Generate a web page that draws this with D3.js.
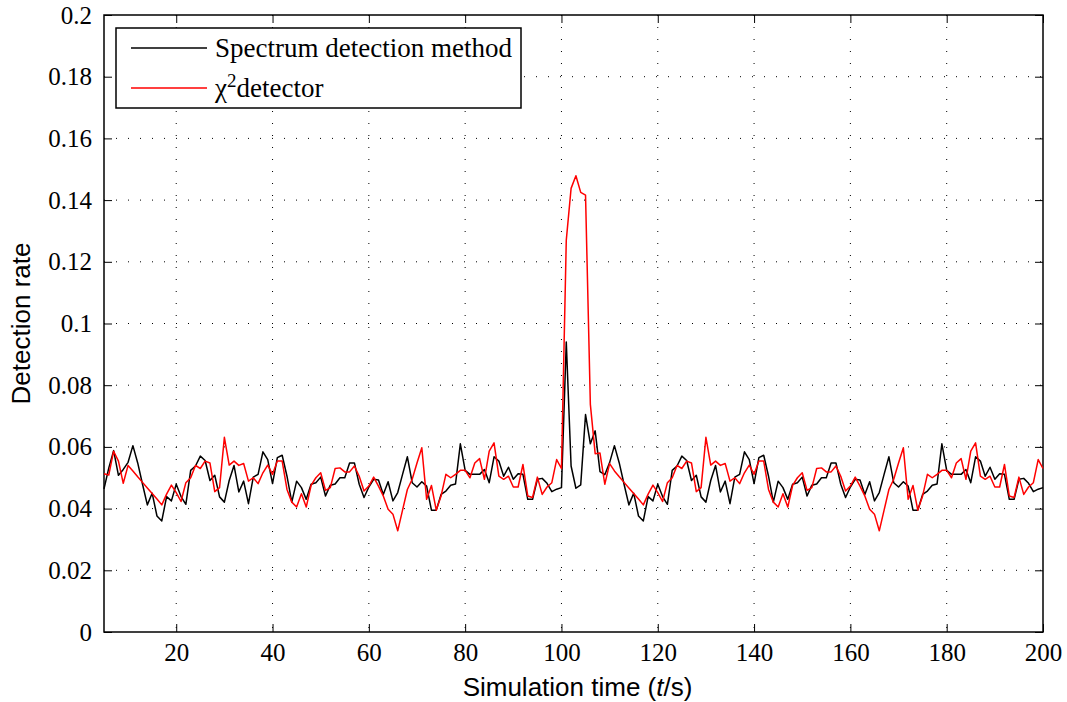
<!DOCTYPE html>
<html>
<head>
<meta charset="utf-8">
<script src="https://cdn.jsdelivr.net/npm/d3@7"></script>
<style>
  body { margin: 0; background: #fff; }
  .tick-label { font-family: "Liberation Serif", "Times New Roman", serif; font-size: 25px; fill: #000; }
  .axis-title { font-family: "Liberation Sans", Arial, sans-serif; font-size: 26px; fill: #000; }
  .legend-text { font-family: "Liberation Serif", "Times New Roman", serif; font-size: 27px; fill: #000; }
</style>
</head>
<body>
<script>
var width = 1067;
var height = 702;
var margin = {top: 15, right: 24, bottom: 70, left: 104};
var w = width - margin.left - margin.right;
var h = height - margin.top - margin.bottom;

// time axis: t = 5 ... 200
var tStart = 5;
// spectrum detection method (black), one value per second from t=5
var spectrum = [
  0.0464, 0.0532, 0.0588, 0.0508, 0.0527, 0.0550, 0.0604, 0.0548, 0.0479, 0.0412,
  0.0450, 0.0376, 0.0360, 0.0439, 0.0425, 0.0479, 0.0439, 0.0414, 0.0524, 0.0538,
  0.0570, 0.0556, 0.0491, 0.0508, 0.0438, 0.0421, 0.0491, 0.0540, 0.0454, 0.0489,
  0.0416, 0.0502, 0.0511, 0.0584, 0.0559, 0.0481, 0.0565, 0.0573, 0.0505, 0.0421,
  0.0489, 0.0468, 0.0430, 0.0479, 0.0484, 0.0502, 0.0441, 0.0476, 0.0480, 0.0500,
  0.0500, 0.0548, 0.0548, 0.0479, 0.0436, 0.0470, 0.0495, 0.0493, 0.0446, 0.0487,
  0.0425, 0.0452, 0.0511, 0.0568, 0.0484, 0.0470, 0.0487, 0.0473, 0.0395, 0.0395,
  0.0446, 0.0457, 0.0476, 0.0480, 0.0610, 0.0524, 0.0511, 0.0511, 0.0511, 0.0527,
  0.0484, 0.0568, 0.0554, 0.0505, 0.0534, 0.0495, 0.0513, 0.0511, 0.0430, 0.0430,
  0.0495, 0.0498, 0.0482, 0.0455, 0.0463, 0.0468,
  0.0940, 0.0538, 0.0466, 0.0477, 0.0705, 0.0610, 0.0652, 0.0520, 0.0510, 0.0549,
  0.0604, 0.0548, 0.0479, 0.0412,
  0.0450, 0.0376, 0.0360, 0.0439, 0.0425, 0.0479, 0.0439, 0.0414, 0.0524, 0.0538,
  0.0570, 0.0556, 0.0491, 0.0508, 0.0438, 0.0421, 0.0491, 0.0540, 0.0454, 0.0489,
  0.0416, 0.0502, 0.0511, 0.0584, 0.0559, 0.0481, 0.0565, 0.0573, 0.0505, 0.0421,
  0.0489, 0.0468, 0.0430, 0.0479, 0.0484, 0.0502, 0.0441, 0.0476, 0.0480, 0.0500,
  0.0500, 0.0548, 0.0548, 0.0479, 0.0436, 0.0470, 0.0495, 0.0493, 0.0446, 0.0487,
  0.0425, 0.0452, 0.0511, 0.0568, 0.0484, 0.0470, 0.0487, 0.0473, 0.0395, 0.0395,
  0.0446, 0.0457, 0.0476, 0.0480, 0.0610, 0.0524, 0.0511, 0.0511, 0.0511, 0.0527,
  0.0484, 0.0568, 0.0554, 0.0505, 0.0534, 0.0495, 0.0513, 0.0511, 0.0430, 0.0430,
  0.0495, 0.0498, 0.0482, 0.0455, 0.0463, 0.0468
];
// chi-square detector (red)
var chi2 = [
  0.0513, 0.0509, 0.0586, 0.0554, 0.0482, 0.0540, 0.0522, 0.0503, 0.0485, 0.0467,
  0.0449, 0.0431, 0.0412, 0.0447, 0.0476, 0.0452, 0.0423, 0.0484, 0.0500, 0.0540,
  0.0530, 0.0554, 0.0548, 0.0455, 0.0468, 0.0631, 0.0541, 0.0554, 0.0540, 0.0546,
  0.0489, 0.0500, 0.0481, 0.0516, 0.0541, 0.0511, 0.0554, 0.0554, 0.0462, 0.0421,
  0.0405, 0.0448, 0.0405, 0.0475, 0.0500, 0.0516, 0.0459, 0.0468, 0.0530, 0.0532,
  0.0519, 0.0519, 0.0538, 0.0505, 0.0457, 0.0473, 0.0502, 0.0473, 0.0441, 0.0398,
  0.0382, 0.0328, 0.0395, 0.0462, 0.0495, 0.0548, 0.0597, 0.0430, 0.0475, 0.0395,
  0.0441, 0.0511, 0.0500, 0.0511, 0.0524, 0.0524, 0.0500, 0.0548, 0.0562, 0.0495,
  0.0586, 0.0613, 0.0505, 0.0495, 0.0505, 0.0470, 0.0470, 0.0543, 0.0441, 0.0436,
  0.0502, 0.0446, 0.0470, 0.0484, 0.0559, 0.0530,
  0.1270, 0.1438, 0.1479, 0.1425, 0.1416, 0.0738, 0.0578, 0.0580, 0.0479, 0.0546,
  0.0522, 0.0503, 0.0485, 0.0467,
  0.0449, 0.0431, 0.0412, 0.0447, 0.0476, 0.0452, 0.0423, 0.0484, 0.0500, 0.0540,
  0.0530, 0.0554, 0.0548, 0.0455, 0.0468, 0.0631, 0.0541, 0.0554, 0.0540, 0.0546,
  0.0489, 0.0500, 0.0481, 0.0516, 0.0541, 0.0511, 0.0554, 0.0554, 0.0462, 0.0421,
  0.0405, 0.0448, 0.0405, 0.0475, 0.0500, 0.0516, 0.0459, 0.0468, 0.0530, 0.0532,
  0.0519, 0.0519, 0.0538, 0.0505, 0.0457, 0.0473, 0.0502, 0.0473, 0.0441, 0.0398,
  0.0382, 0.0328, 0.0395, 0.0462, 0.0495, 0.0548, 0.0597, 0.0430, 0.0475, 0.0395,
  0.0441, 0.0511, 0.0500, 0.0511, 0.0524, 0.0524, 0.0500, 0.0548, 0.0562, 0.0495,
  0.0586, 0.0613, 0.0505, 0.0495, 0.0505, 0.0470, 0.0470, 0.0543, 0.0441, 0.0436,
  0.0502, 0.0446, 0.0470, 0.0484, 0.0559, 0.0530
];
var xTicks = [20, 40, 60, 80, 100, 120, 140, 160, 180, 200];
var yTicks = [0, 0.02, 0.04, 0.06, 0.08, 0.1, 0.12, 0.14, 0.16, 0.18, 0.2];
var yTickLabels = ["0", "0.02", "0.04", "0.06", "0.08", "0.1", "0.12", "0.14", "0.16", "0.18", "0.2"];
var seriesNames = ["Spectrum detection method", "detector"];
var seriesColors = ["#000000", "#ff0000"];

var svg = d3.select("body").append("svg")
    .attr("width", width)
    .attr("height", height)
  .append("g")
    .attr("transform", "translate(" + margin.left + "," + margin.top + ")");

var x = d3.scaleLinear().domain([5, 200]).range([0, w]);
var y = d3.scaleLinear().domain([0, 0.2]).range([h, 0]);

// dotted grid
svg.selectAll(".vgrid").data(xTicks.filter(function(d) { return d < 200; }))
  .enter().append("line")
    .attr("x1", function(d) { return x(d); }).attr("x2", function(d) { return x(d); })
    .attr("y1", 0).attr("y2", h)
    .style("stroke", "#000").style("stroke-width", 1)
    .style("stroke-dasharray", "1,11");
svg.selectAll(".hgrid").data(yTicks.filter(function(d) { return d > 0 && d < 0.2; }))
  .enter().append("line")
    .attr("x1", 0).attr("x2", w)
    .attr("y1", function(d) { return y(d); }).attr("y2", function(d) { return y(d); })
    .style("stroke", "#000").style("stroke-width", 1)
    .style("stroke-dasharray", "1,11");

// axes, ticks pointing inward like matlab
var xAxis = d3.axisBottom(x).tickValues(xTicks).tickSize(-8).tickPadding(10);
var yAxis = d3.axisLeft(y).tickValues(yTicks).tickSize(-8).tickPadding(12)
    .tickFormat(function(d, i) { return yTickLabels[i]; });

var gx = svg.append("g").attr("transform", "translate(0," + h + ")").call(xAxis);
var gy = svg.append("g").call(yAxis);
svg.append("g").call(d3.axisTop(x).tickValues(xTicks).tickSize(-8).tickFormat(""));
svg.append("g").attr("transform", "translate(" + w + ",0)")
  .call(d3.axisRight(y).tickValues(yTicks).tickSize(-8).tickFormat(""));

svg.selectAll(".domain").remove();
svg.selectAll(".tick line").style("stroke", "#000").style("stroke-width", 1);
gx.selectAll("text").attr("class", "tick-label").attr("dy", "0.75em");
gy.selectAll("text").attr("class", "tick-label");

svg.append("rect")
    .attr("x", 0).attr("y", 0).attr("width", w).attr("height", h)
    .style("fill", "none").style("stroke", "#000").style("stroke-width", 1.5);

// data lines
var line = d3.line()
    .x(function(d, i) { return x(tStart + i); })
    .y(function(d) { return y(d); });

[spectrum, chi2].forEach(function(s, k) {
  svg.append("path")
    .datum(s)
    .attr("d", line)
    .style("fill", "none")
    .style("stroke", seriesColors[k])
    .style("stroke-width", 1.5)
    .style("stroke-linejoin", "round");
});

// axis titles
var xt = svg.append("text").attr("class", "axis-title")
    .attr("x", w / 2 + 4).attr("y", h + 64)
    .style("text-anchor", "middle");
xt.append("tspan").text("Simulation time (");
xt.append("tspan").style("font-style", "italic").text("t");
xt.append("tspan").text("/s)");

svg.append("text").attr("class", "axis-title")
    .attr("transform", "translate(-74," + (h / 2) + ") rotate(-90)")
    .style("text-anchor", "middle")
    .text("Detection rate");

// legend
var legend = svg.append("g").attr("transform", "translate(12,13)");
legend.append("rect")
    .attr("width", 405).attr("height", 80)
    .style("fill", "#fff").style("stroke", "#000").style("stroke-width", 1.5);
[0, 1].forEach(function(k) {
  var ly = 20 + k * 40;
  legend.append("line")
    .attr("x1", 15).attr("x2", 91).attr("y1", ly).attr("y2", ly)
    .style("stroke", seriesColors[k]).style("stroke-width", 1.5);
  var t = legend.append("text").attr("class", "legend-text")
    .attr("x", 99).attr("y", ly + 9);
  if (k == 1) {
    t.append("tspan").text("\u03c7");
    t.append("tspan").attr("dy", -10).style("font-size", "19px").text("2");
    t.append("tspan").attr("dy", 10).text(seriesNames[k]);
  } else {
    t.text(seriesNames[k]);
  }
});
</script>
</body>
</html>
